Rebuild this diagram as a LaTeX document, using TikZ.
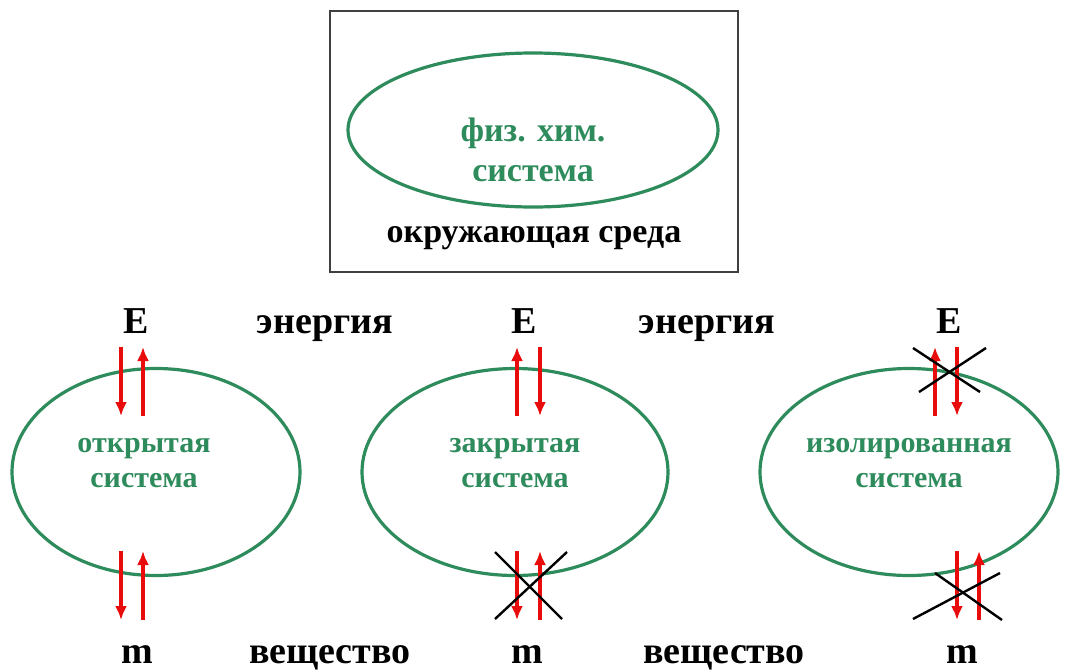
\documentclass[tikz,border=0pt]{standalone}
\usepackage{fontspec}
\setmainfont{Liberation Serif}
\usetikzlibrary{shapes.geometric,arrows.meta}
\definecolor{sysgreen}{RGB}{46,139,92}
\definecolor{flowred}{RGB}{232,12,12}
\begin{document}
\begin{tikzpicture}[x=1pt, y=-1pt, every node/.style={font=\bfseries}]
        \useasboundingbox (0,0) rectangle (1076,670);
        \tikzstyle{sys}=[ellipse, draw=sysgreen, line width=3.2pt, inner sep=0pt]
        \tikzstyle{big}=[anchor=base, inner sep=0pt, font=\bfseries\fontsize{38}{42}\selectfont]
        \tikzstyle{gtext}=[text=sysgreen, align=center, font=\bfseries\fontsize{30}{35}\selectfont]

        % surroundings
        \node[draw=black!75, line width=2pt, minimum width=408, minimum height=261] (ENV) at (534,141.5) {};
        \node[sys, minimum width=370, minimum height=154] (S0) at (533,130) {};
        \node[gtext, font=\bfseries\fontsize{34}{40}\selectfont] (T0) at (533,150) {физ. хим.\\система};
        \node[anchor=base, font=\bfseries\fontsize{34}{40}\selectfont] (ENVT) at (534,242) {окружающая среда};

        % three systems
        \node[sys, minimum width=288, minimum height=207] (S1) at (156,472) {};
        \node[sys, minimum width=306, minimum height=207] (S2) at (515,472) {};
        \node[sys, minimum width=298, minimum height=207] (S3) at (909,472) {};
        \node[gtext] (T1) at (144,463) {открытая\\система};
        \node[gtext] (T2) at (515,463) {закрытая\\система};
        \node[gtext] (T3) at (909,463) {изолированная\\система};

        \node[big] (E1) at (136,333) {E};
        \node[big] (E2) at (524,333) {E};
        \node[big] (E3) at (949,333) {E};
        \node[big] (EN1) at (325,333) {энергия};
        \node[big] (EN2) at (707,333) {энергия};
        \node[big] (M1) at (137,663) {m};
        \node[big] (M2) at (527,663) {m};
        \node[big] (M3) at (962,663) {m};
        \node[big] (V1) at (330,663) {вещество};
        \node[big] (V2) at (724,663) {вещество};

        % arrow ends
        \foreach \n/\x in {a/121,b/143,c/517,d/540,e/935,f/957,g/979} {
            \coordinate (\n T) at (\x,347);
            \coordinate (\n U) at (\x,416);
            \coordinate (\n B) at (\x,551);
            \coordinate (\n L) at (\x,620);
        }

        \tikzstyle{flow}=[-{Latex[length=14pt,width=12pt]}, draw=flowred, fill=flowred, line width=3.6pt]
        \draw[flow] (aT)--(aU);
        \draw[flow] (bU)--(bT);
        \draw[flow] (aB)--(aL);
        \draw[flow] (bL)--(bB);
        \draw[flow] (cU)--(cT);
        \draw[flow] (dT)--(dU);
        \draw[flow] (cB)--(cL);
        \draw[flow] (dL)--(dB);
        \draw[flow] (eU)--(eT);
        \draw[flow] (fT)--(fU);
        \draw[flow] (fB)--(fL);
        \draw[flow] (gL)--(gB);

        % crossed out
        \tikzstyle{cross}=[black, line width=2.4pt]
        \coordinate (X1) at (495,552);
        \coordinate (X2) at (562,619);
        \coordinate (X3) at (567,552);
        \coordinate (X4) at (495,619);
        \coordinate (X5) at (913,348);
        \coordinate (X6) at (980,392);
        \coordinate (X7) at (986,348);
        \coordinate (X8) at (919,392);
        \coordinate (X9) at (913,619);
        \coordinate (X10) at (1000,573);
        \coordinate (X11) at (935,573);
        \coordinate (X12) at (1002,620);
        \draw[cross] (X1)--(X2);
        \draw[cross] (X3)--(X4);
        \draw[cross] (X5)--(X6);
        \draw[cross] (X7)--(X8);
        \draw[cross] (X9)--(X10);
        \draw[cross] (X11)--(X12);
    \end{tikzpicture}
\end{document}
